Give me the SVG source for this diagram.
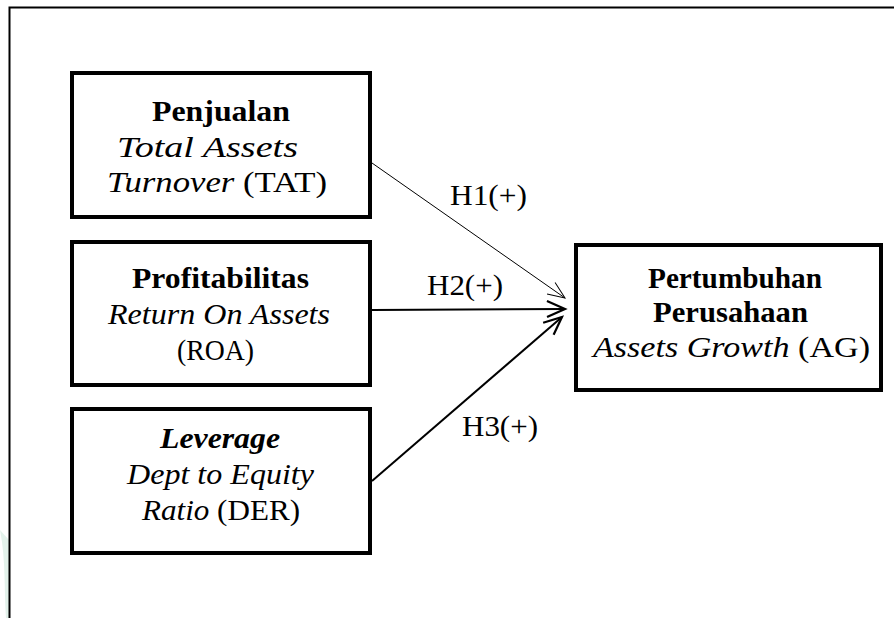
<svg xmlns="http://www.w3.org/2000/svg" width="894" height="618" viewBox="0 0 894 618">
<defs>
<style>
.box{fill:#fff;stroke:#000;stroke-width:4}
.t{font-family:"Liberation Serif","Times New Roman",serif;font-size:30px;fill:#000}
.b{font-weight:bold}
.i{font-style:italic}
.c{fill:none;stroke:#000}
</style>
<marker id="ah1" markerUnits="userSpaceOnUse" markerWidth="30" markerHeight="30" refX="0" refY="0" viewBox="-20 -15 30 30" orient="auto" overflow="visible">
<path d="M-17,-7 L0,0 L-17,7" fill="none" stroke="#000" stroke-width="1"/>
</marker>
<marker id="ah2" markerUnits="userSpaceOnUse" markerWidth="30" markerHeight="30" refX="0" refY="0" viewBox="-20 -15 30 30" orient="auto" overflow="visible">
<path d="M-18,-8 L0,0 L-18,8" fill="none" stroke="#000" stroke-width="2.2"/>
</marker>
</defs>
<rect width="894" height="618" fill="#fff"/>
<path d="M0,530 C6,560 4,590 6,618 L9,618 L9,540 Z" fill="#dcefe6" opacity="0.8"/>
<path d="M9.5,618 L9.5,7.5 L894,7.5" fill="none" stroke="#000" stroke-width="2"/>

<g id="connectors">
<line class="c" x1="372" y1="163" x2="565" y2="298" stroke-width="1" marker-end="url(#ah1)"/>
<line class="c" x1="372" y1="310" x2="565" y2="309" stroke-width="2" marker-end="url(#ah2)"/>
<line class="c" x1="372" y1="481" x2="562" y2="317" stroke-width="2" marker-end="url(#ah2)"/>
<text class="t" x="450" y="205" textLength="77" lengthAdjust="spacingAndGlyphs">H1(+)</text>
<text class="t" x="427" y="295" textLength="76" lengthAdjust="spacingAndGlyphs">H2(+)</text>
<text class="t" x="462" y="436" textLength="76" lengthAdjust="spacingAndGlyphs">H3(+)</text>
</g>

<g id="penjualan">
<rect class="box" x="72" y="73" width="298" height="144"/>
<text class="t b" x="152" y="121" textLength="138" lengthAdjust="spacingAndGlyphs">Penjualan</text>
<text class="t i" x="117" y="157" textLength="181" lengthAdjust="spacingAndGlyphs">Total Assets</text>
<text class="t" x="107" y="192" textLength="220" lengthAdjust="spacingAndGlyphs"><tspan class="i">Turnover</tspan> (TAT)</text>
</g>

<g id="profitabilitas">
<rect class="box" x="72" y="242" width="298" height="143"/>
<text class="t b" x="132" y="288" textLength="177" lengthAdjust="spacingAndGlyphs">Profitabilitas</text>
<text class="t i" x="108" y="324" textLength="222" lengthAdjust="spacingAndGlyphs">Return On Assets</text>
<text class="t" x="177" y="360" textLength="77" lengthAdjust="spacingAndGlyphs">(ROA)</text>
</g>

<g id="leverage">
<rect class="box" x="72" y="409" width="298" height="144"/>
<text class="t b i" x="160" y="448" textLength="120" lengthAdjust="spacingAndGlyphs">Leverage</text>
<text class="t i" x="127" y="484" textLength="187" lengthAdjust="spacingAndGlyphs">Dept to Equity</text>
<text class="t" x="142" y="520" textLength="158" lengthAdjust="spacingAndGlyphs"><tspan class="i">Ratio</tspan> (DER)</text>
</g>

<g id="pertumbuhan">
<rect class="box" x="576" y="245" width="305" height="145"/>
<text class="t b" x="648" y="288" textLength="174" lengthAdjust="spacingAndGlyphs">Pertumbuhan</text>
<text class="t b" x="653" y="322" textLength="155" lengthAdjust="spacingAndGlyphs">Perusahaan</text>
<text class="t" x="593" y="357" textLength="277" lengthAdjust="spacingAndGlyphs"><tspan class="i">Assets Growth</tspan> (AG)</text>
</g>
</svg>
